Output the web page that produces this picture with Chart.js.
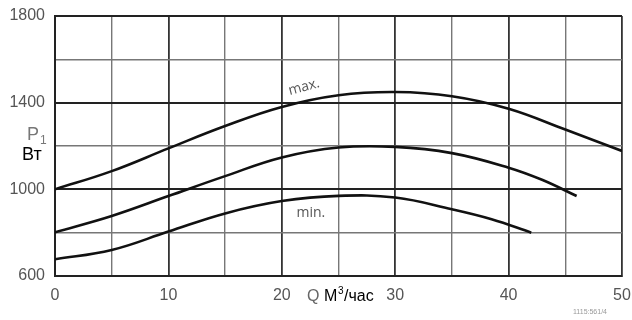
<!DOCTYPE html>
<html>
<head>
<meta charset="utf-8">
<script src="https://cdn.jsdelivr.net/npm/chart.js@4.4.0/dist/chart.umd.min.js"></script>
<style>
  html, body { margin: 0; padding: 0; background: #fff; }
  #wrap { width: 632px; height: 320px; }
</style>
</head>
<body>
<div id="wrap"><canvas id="chart" width="632" height="320"></canvas></div>
<script>
// flow Q, m3/h
const qMax = [0, 5, 10, 15, 20, 25, 30, 35, 40, 45, 50];
const qMid = [0, 5, 10, 15, 20, 25, 30, 35, 40, 43, 46];
const qMin = [0, 5, 10, 15, 20, 25, 30, 35, 38.5, 42];
// power P1, W
const pMax = [1000, 1084, 1189, 1292, 1380, 1434, 1449, 1430, 1372, 1276, 1177];
const pMid = [802, 877, 969, 1061, 1147, 1193, 1196, 1167, 1100, 1043, 969];
const pMin = [677, 720, 805, 889, 946, 970, 962, 908, 862, 800];

const xTicks = [0, 10, 20, 30, 40, 50];
const yTicks = [600, 1000, 1400, 1800];

function pts(xs, ys) {
    return xs.map((x, i) => ({ x: x, y: ys[i] }));
}

function curve(xs, ys) {
    return {
        data: pts(xs, ys),
        borderColor: '#111',
        borderWidth: 2.6,
        pointRadius: 0,
        fill: false,
        tension: 0.4,
    };
}

// no extra padding from the tick labels, the layout padding decides the plot box
function noPad(s) {
    s.paddingLeft = 0;
    s.paddingRight = 0;
    s.paddingTop = 0;
    s.paddingBottom = 0;
}

const tickFont = { family: 'Liberation Sans, Arial, sans-serif', size: 16 };

// texts drawn next to the plot
const labelsPlugin = {
    id: 'labels',
    afterDraw(chart) {
        const c = chart.ctx;
        const xs = chart.scales.x, ys = chart.scales.y;
        c.save();
        c.textBaseline = 'alphabetic';

        // max. / min.
        c.fillStyle = '#555';
        c.font = '14px "Open Sans", "DejaVu Sans", sans-serif';
        c.save();
        c.translate(xs.getPixelForValue(20.7), ys.getPixelForValue(1435));
        c.rotate(-0.26);
        c.fillText('max.', 0, 0);
        c.restore();
        c.fillText('min.', xs.getPixelForValue(21.3), ys.getPixelForValue(872));

        // P1 / Вт
        c.font = '18px "Liberation Sans", Arial, sans-serif';
        c.fillStyle = '#777';
        c.fillText('P', 27, 140);
        c.font = '12px "Liberation Sans", Arial, sans-serif';
        c.fillText('1', 40, 144);
        c.fillStyle = '#000';
        c.font = '18px "Liberation Sans", Arial, sans-serif';
        c.fillText('Вт', 22, 160);

        // Q м3/час
        c.fillStyle = '#666';
        c.font = '16px "Liberation Sans", Arial, sans-serif';
        c.fillText('Q', 307, 301);
        c.fillStyle = '#000';
        c.fillText('М', 324, 301);
        c.font = '10px "Liberation Sans", Arial, sans-serif';
        c.fillText('3', 338, 294);
        c.font = '16px "Liberation Sans", Arial, sans-serif';
        c.fillText('/час', 344, 301);

        // drawing number
        c.fillStyle = '#999';
        c.font = '7px "Liberation Sans", Arial, sans-serif';
        c.fillText('1115:561/4', 573, 314);
        c.restore();
    }
};

new Chart(document.getElementById('chart'), {
    type: 'line',
    data: {
        datasets: [curve(qMax, pMax), curve(qMid, pMid), curve(qMin, pMin)],
    },
    options: {
        responsive: false,
        animation: false,
        layout: { padding: { top: 16, right: 10, left: 0, bottom: 0 } },
        plugins: {
            legend: { display: false },
            tooltip: { enabled: false },
        },
        scales: {
            x: {
                type: 'linear',
                min: 0,
                max: 50,
                afterFit: (s) => { s.height = 44; noPad(s); },
                afterBuildTicks: (s) => {
                    s.ticks = [0, 5, 10, 15, 20, 25, 30, 35, 40, 45, 50].map(v => ({ value: v }));
                },
                ticks: {
                    autoSkip: false,
                    maxRotation: 0,
                    color: '#555',
                    font: tickFont,
                    padding: 10,
                    callback: (v) => xTicks.includes(v) ? String(v) : '',
                },
                grid: {
                    drawTicks: false,
                    color: (ctx) => ctx.tick && ctx.tick.value % 10 === 0 ? '#333' : '#777',
                    lineWidth: (ctx) => ctx.tick && ctx.tick.value % 10 === 0 ? 1.8 : 1.4,
                },
                border: { color: '#222', width: 2 },
            },
            y: {
                type: 'linear',
                min: 600,
                max: 1800,
                afterFit: (s) => { s.width = 55; noPad(s); },
                afterBuildTicks: (s) => {
                    s.ticks = [600, 800, 1000, 1200, 1400, 1600, 1800].map(v => ({ value: v }));
                },
                ticks: {
                    autoSkip: false,
                    color: '#555',
                    font: tickFont,
                    padding: 10,
                    callback: (v) => yTicks.includes(v) ? String(v) : '',
                },
                grid: {
                    drawTicks: false,
                    color: (ctx) => ctx.tick && yTicks.includes(ctx.tick.value) ? '#222' : '#777',
                    lineWidth: (ctx) => ctx.tick && yTicks.includes(ctx.tick.value) ? 2 : 1.4,
                },
                border: { color: '#222', width: 2 },
            },
        },
    },
    plugins: [labelsPlugin],
});
</script>
</body>
</html>
